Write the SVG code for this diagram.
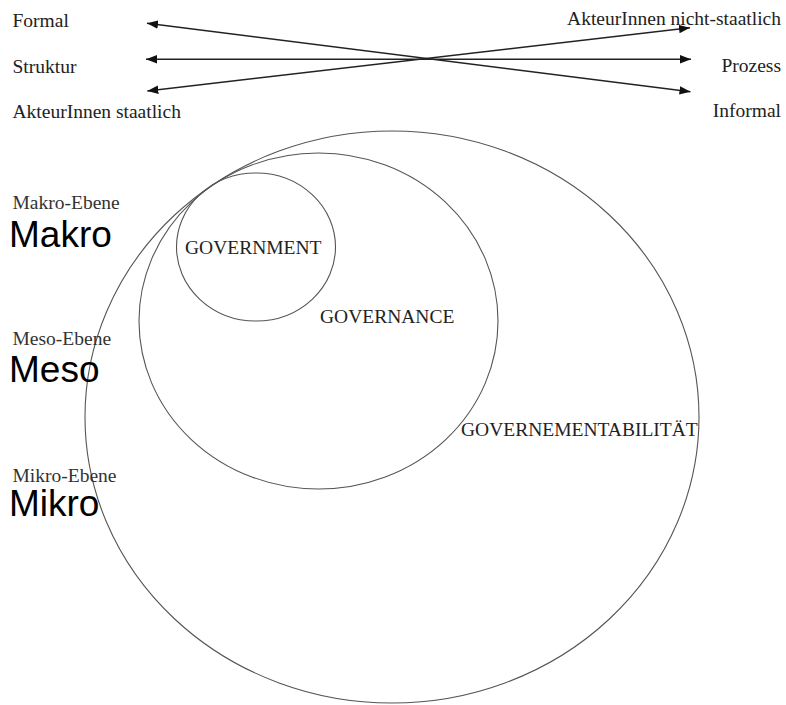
<svg xmlns="http://www.w3.org/2000/svg" width="786" height="705" viewBox="0 0 786 705">
  <style>
    .t { font-family: "Liberation Serif", "Times New Roman", serif; font-size: 19.5px; fill: #222; }
    .lvl { font-family: "Liberation Serif", "Times New Roman", serif; font-size: 19.5px; fill: #333; }
    .big { font-family: "Liberation Sans", Arial, sans-serif; font-size: 37px; fill: #000; }
    .ring { fill: none; stroke: #555; stroke-width: 1.1; }
    .arr { fill: none; stroke: #222; stroke-width: 1.4; marker-start: url(#ah); marker-end: url(#ah); }
  </style>
  <defs>
    <marker id="ah" markerUnits="userSpaceOnUse" markerWidth="12" markerHeight="10" refX="11" refY="5" orient="auto-start-reverse" viewBox="0 0 12 10">
      <path d="M0,0.8 L11,5 L0,9.2 Z" fill="#111"/>
    </marker>
  </defs>
  <rect width="786" height="705" fill="#fff"/>

  <g id="connectors">
    <line class="arr" x1="147" y1="23.3" x2="690.5" y2="91.7"/>
    <line class="arr" x1="146" y1="59.3" x2="691" y2="59.3"/>
    <line class="arr" x1="147.3" y1="91" x2="690" y2="27.7"/>
  </g>

  <g id="axis-labels">
    <text class="t" x="12.5" y="27">Formal</text>
    <text class="t" x="12.5" y="72.5">Struktur</text>
    <text class="t" x="12.5" y="118">AkteurInnen staatlich</text>
    <text class="t" x="781" y="25" text-anchor="end">AkteurInnen nicht-staatlich</text>
    <text class="t" x="781" y="71.5" text-anchor="end">Prozess</text>
    <text class="t" x="781" y="117" text-anchor="end">Informal</text>
  </g>

  <g id="governementabilitaet">
    <ellipse class="ring" cx="392" cy="417" rx="307" ry="286"/>
    <text class="t" x="461" y="435.5">GOVERNEMENTABILITÄT</text>
  </g>

  <g id="governance">
    <ellipse class="ring" cx="318.5" cy="321" rx="179.5" ry="168"/>
    <text class="t" x="320" y="322.5">GOVERNANCE</text>
  </g>

  <g id="government">
    <ellipse class="ring" cx="256" cy="247" rx="79.5" ry="74"/>
    <text class="t" x="185" y="254">GOVERNMENT</text>
  </g>

  <g id="makro">
    <text class="lvl" x="12.5" y="208.5">Makro-Ebene</text>
    <text class="big" x="9" y="247">Makro</text>
  </g>
  <g id="meso">
    <text class="lvl" x="12.5" y="345">Meso-Ebene</text>
    <text class="big" x="9" y="382">Meso</text>
  </g>
  <g id="mikro">
    <text class="lvl" x="12.5" y="481.5">Mikro-Ebene</text>
    <text class="big" x="9" y="516">Mikro</text>
  </g>
</svg>
